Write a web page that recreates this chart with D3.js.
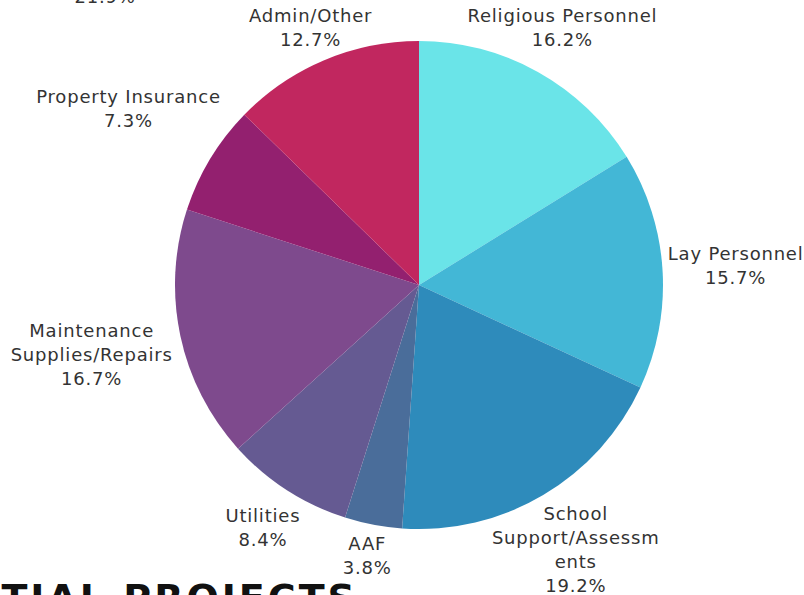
<!DOCTYPE html>
<html>
<head>
<meta charset="utf-8">
<script src="https://cdn.jsdelivr.net/npm/d3@7"></script>
<style>
  html, body { margin: 0; padding: 0; background: #fff; overflow: hidden; }
  svg { display: block; }
  text { font-family: "DejaVu Sans", sans-serif; }
</style>
</head>
<body>
<div id="chart"></div>
<script>
// slice data, clockwise from 12 o'clock
var categories = ["Religious Personnel", "Lay Personnel", "School Support/Assessments", "AAF",
                  "Utilities", "Maintenance Supplies/Repairs", "Property Insurance", "Admin/Other"];
var values = [16.2, 15.7, 19.2, 3.8, 8.4, 16.7, 7.3, 12.7];
// label text as wrapped in the original
var labelLines = [
  ["Religious Personnel"],
  ["Lay Personnel"],
  ["School", "Support/Assessm", "ents"],
  ["AAF"],
  ["Utilities"],
  ["Maintenance", "Supplies/Repairs"],
  ["Property Insurance"],
  ["Admin/Other"]
];
var colors = ["#6ae4e8", "#43b7d6", "#2e8bbb", "#4a6d9a", "#655a92", "#7e4a8d", "#93206f", "#c1275f"];

var width = 804, height = 595;
var cx = 419, cy = 285, radius = 244;
var lh = 24, fontSize = 18;

var svg = d3.select("#chart").append("svg")
  .attr("width", width)
  .attr("height", height);

// bits of neighbouring slide content that are cut off by the frame
svg.append("text")
  .attr("x", 105).attr("y", 3)
  .attr("text-anchor", "middle")
  .style("font-size", fontSize + "px")
  .style("letter-spacing", "0.8px")
  .style("fill", "#333")
  .text("21.9%");

svg.append("text")
  .attr("x", 358).attr("y", 611)
  .attr("text-anchor", "end")
  .style("font-size", "38px")
  .style("font-weight", "bold")
  .style("letter-spacing", "3px")
  .style("fill", "#111")
  .text("ESSENTIAL PROJECTS");

var data = categories.map((c, i) => ({ name: c, value: values[i], lines: labelLines[i] }));

var pie = d3.pie().sort(null).value(d => d.value);
var arc = d3.arc().innerRadius(0).outerRadius(radius);
var arcs = pie(data);

var g = svg.append("g").attr("transform", "translate(" + cx + "," + cy + ")");

g.selectAll("path")
  .data(arcs)
  .enter().append("path")
  .attr("d", arc)
  .attr("fill", (d, i) => colors[i]);

var label = g.selectAll("g.label")
  .data(arcs)
  .enter().append("g")
  .attr("class", "label");

label.each(function(d) {
  var lines = d.data.lines.concat([d3.format(".1f")(d.data.value) + "%"]);
  var t = d3.select(this).append("text")
    .attr("text-anchor", "middle")
    .style("font-size", fontSize + "px")
    .style("letter-spacing", "0.8px")
    .style("fill", "#333");
  t.selectAll("tspan")
    .data(lines)
    .enter().append("tspan")
    .attr("x", 0)
    .attr("y", (l, i) => i * lh)
    .text(l => l);

  var w = 0;
  t.selectAll("tspan").each(function() { w = Math.max(w, this.getComputedTextLength()); });
  var h = lines.length * lh;

  var mid = (d.startAngle + d.endAngle) / 2;
  var s = Math.sin(mid), c = -Math.cos(mid);
  var dist = radius + 4 + Math.abs(s) * w / 2 + Math.abs(c) * h / 2;
  var y = c * dist;
  // keep the label box inside the frame, sliding it back along the ray
  var top = cy + y - h / 2, bottom = cy + y + h / 2;
  if (top < 4) { y = 4 + h / 2 - cy; dist = y / c; }
  if (bottom > 598) { y = 598 - h / 2 - cy; dist = y / c; }
  var x = s * dist;

  t.attr("transform", "translate(" + x + "," + (y - h / 2 + lh * 0.75) + ")");
});
</script>
</body>
</html>
